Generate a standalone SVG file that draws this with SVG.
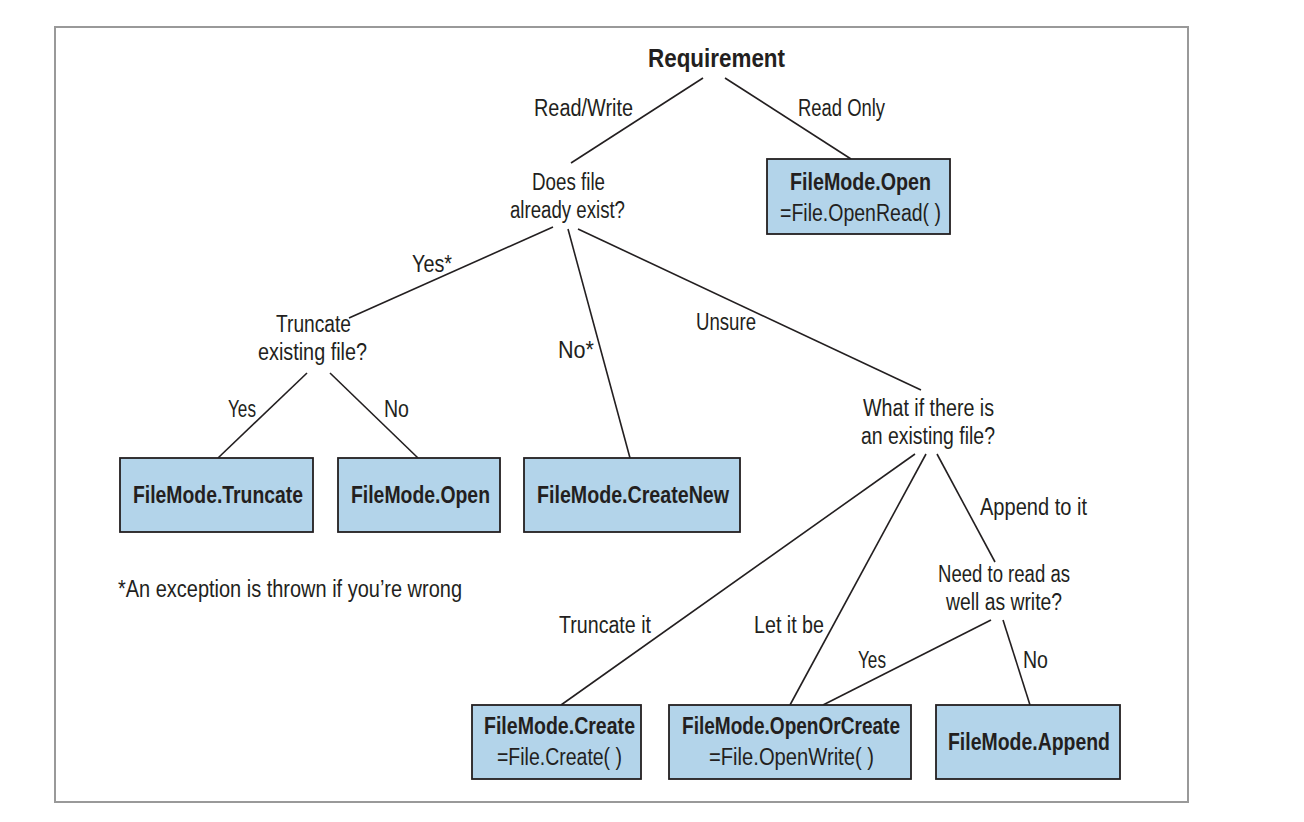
<svg xmlns="http://www.w3.org/2000/svg" width="1304" height="822" viewBox="0 0 1304 822">
<style>
text{font-family:"Liberation Sans",Arial,sans-serif;fill:#231f20;font-size:23px}
.b{font-weight:bold}
.box{fill:#b3d4ea;stroke:#231f20;stroke-width:1.8}
.ln{stroke:#231f20;stroke-width:1.6;fill:none}
</style>
<rect x="55" y="27" width="1133" height="775" fill="#fff" stroke="#999" stroke-width="2"/>
<g id="connectors">
<line class="ln" x1="703" y1="78" x2="571" y2="163"/>
<line class="ln" x1="725" y1="78" x2="851" y2="159"/>
<line class="ln" x1="553" y1="227" x2="349" y2="318"/>
<line class="ln" x1="568" y1="229" x2="630" y2="458"/>
<line class="ln" x1="578" y1="229" x2="921" y2="390"/>
<line class="ln" x1="307" y1="373" x2="218" y2="458"/>
<line class="ln" x1="330" y1="373" x2="418" y2="458"/>
<line class="ln" x1="915" y1="454" x2="561" y2="705"/>
<line class="ln" x1="926" y1="454" x2="790" y2="705"/>
<line class="ln" x1="937" y1="454" x2="995" y2="562"/>
<line class="ln" x1="991" y1="620" x2="823" y2="705"/>
<line class="ln" x1="1003" y1="620" x2="1030" y2="705"/>
<text x="534" y="116" textLength="99" lengthAdjust="spacingAndGlyphs">Read/Write</text>
<text x="798" y="116" textLength="87" lengthAdjust="spacingAndGlyphs">Read Only</text>
<text x="412" y="272" textLength="40" lengthAdjust="spacingAndGlyphs">Yes*</text>
<text x="558" y="358" textLength="36" lengthAdjust="spacingAndGlyphs">No*</text>
<text x="696" y="330" textLength="60" lengthAdjust="spacingAndGlyphs">Unsure</text>
<text x="228" y="417" textLength="28" lengthAdjust="spacingAndGlyphs">Yes</text>
<text x="384" y="417" textLength="25" lengthAdjust="spacingAndGlyphs">No</text>
<text x="559" y="633" textLength="92" lengthAdjust="spacingAndGlyphs">Truncate it</text>
<text x="754" y="633" textLength="70" lengthAdjust="spacingAndGlyphs">Let it be</text>
<text x="980" y="515" textLength="107" lengthAdjust="spacingAndGlyphs">Append to it</text>
<text x="858" y="668" textLength="28" lengthAdjust="spacingAndGlyphs">Yes</text>
<text x="1023" y="668" textLength="25" lengthAdjust="spacingAndGlyphs">No</text>
</g>
<g id="requirement">
<text class="b" x="648" y="67" textLength="137" lengthAdjust="spacingAndGlyphs" style="font-size:26px">Requirement</text>
</g>
<g id="does-file-exist">
<text x="532" y="190" textLength="73" lengthAdjust="spacingAndGlyphs">Does file</text>
<text x="510" y="218" textLength="115" lengthAdjust="spacingAndGlyphs">already exist?</text>
</g>
<g id="open-read">
<rect class="box" x="767" y="159" width="183" height="75"/>
<text class="b" x="790" y="190" textLength="141" lengthAdjust="spacingAndGlyphs">FileMode.Open</text>
<text x="780" y="221" textLength="161" lengthAdjust="spacingAndGlyphs">=File.OpenRead( )</text>
</g>
<g id="truncate-existing">
<text x="276" y="332" textLength="75" lengthAdjust="spacingAndGlyphs">Truncate</text>
<text x="258" y="360" textLength="109" lengthAdjust="spacingAndGlyphs">existing file?</text>
</g>
<g id="truncate">
<rect class="box" x="120" y="458" width="193" height="74"/>
<text class="b" x="133" y="503" textLength="170" lengthAdjust="spacingAndGlyphs">FileMode.Truncate</text>
</g>
<g id="open">
<rect class="box" x="338" y="458" width="162" height="74"/>
<text class="b" x="351" y="503" textLength="139" lengthAdjust="spacingAndGlyphs">FileMode.Open</text>
</g>
<g id="create-new">
<rect class="box" x="524" y="458" width="216" height="74"/>
<text class="b" x="537" y="503" textLength="192" lengthAdjust="spacingAndGlyphs">FileMode.CreateNew</text>
</g>
<g id="footnote">
<text x="118" y="597" textLength="344" lengthAdjust="spacingAndGlyphs">*An exception is thrown if you’re wrong</text>
</g>
<g id="what-if-existing">
<text x="863" y="416" textLength="131" lengthAdjust="spacingAndGlyphs">What if there is</text>
<text x="861" y="444" textLength="134" lengthAdjust="spacingAndGlyphs">an existing file?</text>
</g>
<g id="need-read-write">
<text x="938" y="582" textLength="132" lengthAdjust="spacingAndGlyphs">Need to read as</text>
<text x="946" y="610" textLength="116" lengthAdjust="spacingAndGlyphs">well as write?</text>
</g>
<g id="create">
<rect class="box" x="472" y="705" width="169" height="74"/>
<text class="b" x="484" y="734" textLength="151" lengthAdjust="spacingAndGlyphs">FileMode.Create</text>
<text x="497" y="765" textLength="125" lengthAdjust="spacingAndGlyphs">=File.Create( )</text>
</g>
<g id="open-or-create">
<rect class="box" x="669" y="705" width="242" height="74"/>
<text class="b" x="682" y="734" textLength="218" lengthAdjust="spacingAndGlyphs">FileMode.OpenOrCreate</text>
<text x="709" y="765" textLength="165" lengthAdjust="spacingAndGlyphs">=File.OpenWrite( )</text>
</g>
<g id="append">
<rect class="box" x="936" y="705" width="184" height="74"/>
<text class="b" x="948" y="750" textLength="162" lengthAdjust="spacingAndGlyphs">FileMode.Append</text>
</g>
</svg>
